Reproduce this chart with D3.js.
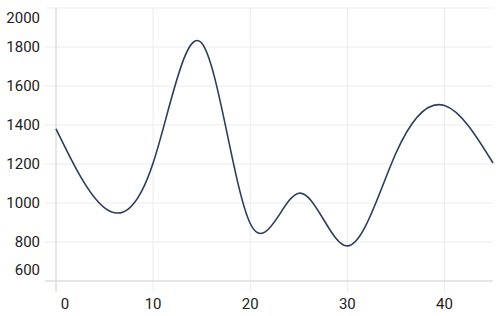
<!DOCTYPE html>
<html>
<head>
<meta charset="utf-8">
<script src="https://cdn.jsdelivr.net/npm/d3@7"></script>
<style>
  body { margin: 0; background: #fff; }
  text { font-family: Roboto, sans-serif; }
</style>
</head>
<body>
<div id="chart"></div>
<script>
// Data
const xValues = [0, 5, 10, 15, 20, 25, 30, 35, 40, 45];
const yValues = [1380, 975, 1205, 1820, 895, 1050, 780, 1255, 1500, 1205];
const xTicks = [0, 10, 20, 30, 40];
const yTicks = [600, 800, 1000, 1200, 1400, 1600, 1800, 2000];

const width = 500;
const height = 316;
const margin = { top: 8, right: 7, bottom: 35, left: 56 };

const svg = d3.select("#chart")
  .append("svg")
  .attr("width", width)
  .attr("height", height);

const x = d3.scaleLinear()
  .domain([0, 45])
  .range([margin.left, width - margin.right]);

const y = d3.scaleLinear()
  .domain([600, 2000])
  .range([height - margin.bottom, margin.top]);

const gridColor = "#ebebeb";
const axisColor = "#d6d6d6";

// Horizontal gridlines + left ticks
svg.append("g")
  .selectAll("line")
  .data(yTicks)
  .join("line")
  .attr("x1", margin.left - 11)
  .attr("x2", width - margin.right)
  .attr("y1", d => y(d))
  .attr("y2", d => y(d))
  .attr("stroke", gridColor)
  .attr("stroke-width", 1);

// Vertical gridlines + bottom ticks
svg.append("g")
  .selectAll("line")
  .data(xTicks)
  .join("line")
  .attr("x1", d => x(d))
  .attr("x2", d => x(d))
  .attr("y1", margin.top)
  .attr("y2", height - margin.bottom + 11)
  .attr("stroke", gridColor)
  .attr("stroke-width", 1);

// Axis lines
svg.append("line")
  .attr("x1", x(0)).attr("x2", x(0))
  .attr("y1", margin.top).attr("y2", height - margin.bottom + 11)
  .attr("stroke", axisColor);

svg.append("line")
  .attr("x1", margin.left - 11).attr("x2", width - margin.right)
  .attr("y1", y(600)).attr("y2", y(600))
  .attr("stroke", axisColor);

// Y labels (edge labels nudged inward)
svg.append("g")
  .selectAll("text")
  .data(yTicks)
  .join("text")
  .attr("x", 40)
  .attr("y", d => y(d) + (d === 2000 ? 10 : d === 600 ? -11 : 0))
  .attr("dy", "0.35em")
  .attr("text-anchor", "end")
  .attr("font-size", 15)
  .attr("fill", "#222")
  .text(d => d);

// X labels
svg.append("g")
  .selectAll("text")
  .data(xTicks)
  .join("text")
  .attr("x", d => x(d) + (d === 0 ? 9 : 0))
  .attr("y", 309)
  .attr("text-anchor", "middle")
  .attr("font-size", 15)
  .attr("fill", "#222")
  .text(d => d);

// Line
const data = xValues.map((v, i) => ({ x: v, y: yValues[i] }));
const line = d3.line()
  .x(d => x(d.x))
  .y(d => y(d.y))
  .curve(d3.curveNatural);

svg.append("path")
  .datum(data)
  .attr("fill", "none")
  .attr("stroke", "#2f3d5c")
  .attr("stroke-width", 1.6)
  .attr("d", line);
</script>
</body>
</html>
